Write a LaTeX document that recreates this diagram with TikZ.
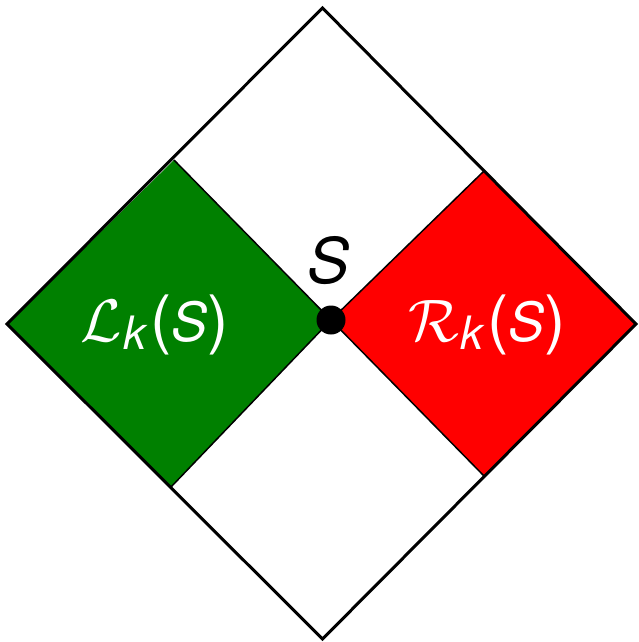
\RequirePackage{fix-cm}
\documentclass[tikz,border=0pt]{standalone}
\usepackage{fontspec}
\newfontfamily\heros{TeX Gyre Heros}
\definecolor{mygreen}{RGB}{0,128,0}
\definecolor{myred}{RGB}{255,0,0}
\tikzset{
  outerline/.style={draw=black, line width=3pt, line join=miter},
  innerline/.style={draw=black, line width=1.5pt},
  dotnode/.style={circle, fill=black, inner sep=0pt, minimum size=29pt},
  biglabel/.style={text=white, inner sep=0pt, font=\fontsize{54}{60}\selectfont\heros},
  slabel/.style={text=black, inner sep=0pt, font=\fontsize{63}{74}\selectfont\heros\itshape}
}
\newcommand{\subk}{\kern1pt\raisebox{-8pt}{\fontsize{46}{48}\selectfont\itshape k}\kern4pt}
\newcommand{\bigpar}[1]{{\fontsize{64}{66}\selectfont #1}}
\newcommand{\calletter}[1]{{\fontsize{60}{62}\selectfont$\mathcal{#1}$}}
\begin{document}
\begin{tikzpicture}[x=1pt,y=-1pt]
\useasboundingbox (0,0) rectangle (638,642);
\coordinate (T) at (322.5,8);
\coordinate (B) at (322.5,639);
\coordinate (L) at (7,324);
\coordinate (R) at (636,324);
\coordinate (S) at (331,320);
\coordinate (GT) at (174,160);
\coordinate (GB) at (171,487);
\coordinate (RT) at (484,171);
\coordinate (RB) at (484,476);
\fill[mygreen] (L) -- (GT) -- (S) -- (GB) -- cycle;
\fill[myred] (S) -- (RT) -- (R) -- (RB) -- cycle;
\draw[innerline] (GT) -- (S) -- (GB);
\draw[innerline] (RT) -- (S) -- (RB);
\draw[outerline] (T) -- (R) -- (B) -- (L) -- cycle;
\node[dotnode] (dot) at (S) {};
\node[slabel] (slab) at (329,261) {S};
\node[biglabel, anchor=base] (lk) at (155,341) {\calletter{L}\subk\bigpar{(}\textit{S}\bigpar{)}};
\node[biglabel, anchor=base] (rk) at (487,341) {\calletter{R}\subk\bigpar{(}\textit{S}\bigpar{)}};
\end{tikzpicture}
\end{document}
